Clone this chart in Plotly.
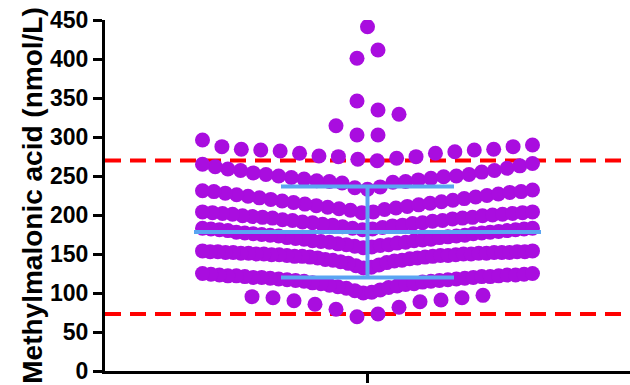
import plotly.graph_objects as go

# ---- data: Methylmalonic acid values (nmol/L), grouped by swarm row,
# listed from the centre outward (alternating left / right) ----
row_440 = [441.4]
row_400 = [400.9, 411.5]
row_330 = [346.2, 334.6]
row_300 = [302.6, 302.6, 314.5, 329.1]
row_270 = [271.4, 269.6, 274.8, 272.7, 275.6, 274.8, 279.1, 279.1, 282.1,
           281.1, 283.3, 283.3, 284.2, 284.2, 287.6, 287.6, 296.2, 289.7]
row_240 = [233, 235, 236, 241, 242, 243, 243, 244, 245, 246, 247, 248, 249,
           250, 250, 252, 252, 254, 255, 257, 257, 259, 260, 262, 263, 265, 266]
row_210 = [203, 204, 206, 207, 208, 209, 210, 211, 212, 213, 214, 215, 216,
           217, 218, 219, 220, 221, 222, 223, 224, 225, 226, 227, 228, 229,
           230, 230, 231, 232]
row_180 = [181, 182, 183, 184, 185, 186, 187, 187, 188, 189, 190, 190, 191,
           192, 193, 193, 194, 195, 196, 196, 197, 197, 198, 199, 199, 200,
           201, 201, 202, 202, 203, 203, 204, 204]
row_155 = [158, 159, 160, 161, 162, 162, 163, 164, 165, 165, 166, 167, 167,
           168, 169, 169, 170, 171, 171, 172, 173, 173, 174, 174, 175, 176,
           176, 177, 177, 178, 178, 179, 180, 180, 181, 181, 182, 182, 183, 183]
row_130 = [132, 133, 135, 136, 138, 139, 140, 141, 142, 142, 143, 144, 145,
           145, 146, 146, 147, 147, 147, 148, 148, 148, 149, 149, 149, 150,
           150, 150, 150, 151, 151, 151, 151, 152, 152, 152, 152, 152, 153,
           153, 153, 153, 154, 154]
row_100 = [100, 101, 103, 104, 106, 107, 108, 109, 110, 111, 112, 112, 113,
           114, 115, 115, 116, 116, 117, 117, 118, 118, 119, 119, 120, 120,
           120, 121, 121, 121, 122, 122, 122, 123, 123, 123, 124, 124, 125, 125]
row_70 = [69.6, 73.1, 79.1, 81.7, 85.5, 88.8, 90.1, 91.0, 94.0, 94.0, 95.3, 97.0]

swarm_rows = [row_440, row_400, row_330, row_300, row_270, row_240, row_210,
              row_180, row_155, row_130, row_100, row_70]

mean_value = 178.3
sd_value = 58.3
reference_low = 73
reference_high = 270

y_title = "Methylmalonic acid (nmol/L)"
y_ticks = [0, 50, 100, 150, 200, 250, 300, 350, 400, 450]

# ---- layout geometry ----
W, H = 630, 385
M_L, M_R, M_T, M_B = 105, 0, 20, 14
plot_w = W - M_L - M_R
px_per_x = plot_w / 2.0          # x range is [-1, 1]
base_gap_px = 21.0
max_row_px = 330.0

purple = "#A90DDF"
blue = "#5AA5F2"
red = "#FF0000"


def swarm_offsets(n):
    gap = base_gap_px if n < 2 else min(base_gap_px, max_row_px / (n - 1))
    offs = []
    for i in range(n):
        if n % 2 == 1:
            k = 0 if i == 0 else (i + 1) // 2
            sign = -1 if i % 2 == 1 else 1
            offs.append(sign * k * gap)
        else:
            k = i // 2 + 0.5
            sign = -1 if i % 2 == 0 else 1
            offs.append(sign * k * gap)
    return [o / px_per_x for o in offs]


xs, ys = [], []
for row in swarm_rows:
    xs.extend(swarm_offsets(len(row)))
    ys.extend(row)

fig = go.Figure()
fig.add_trace(go.Scatter(
    x=xs, y=ys, mode="markers",
    marker=dict(size=15, color=purple, line=dict(width=0)),
    hoverinfo="y", showlegend=False))

mean_half = 173.5 / px_per_x
cap_half = 86.5 / px_per_x
blue_line = dict(color=blue, width=4)
fig.add_trace(go.Scatter(x=[-mean_half, mean_half], y=[mean_value, mean_value],
                         mode="lines", line=blue_line, showlegend=False, hoverinfo="skip"))
fig.add_trace(go.Scatter(x=[-cap_half, cap_half], y=[mean_value + sd_value] * 2,
                         mode="lines", line=blue_line, showlegend=False, hoverinfo="skip"))
fig.add_trace(go.Scatter(x=[-cap_half, cap_half], y=[mean_value - sd_value] * 2,
                         mode="lines", line=blue_line, showlegend=False, hoverinfo="skip"))
fig.add_trace(go.Scatter(x=[0, 0], y=[mean_value - sd_value, mean_value + sd_value],
                         mode="lines", line=dict(color=blue, width=4), showlegend=False,
                         hoverinfo="skip"))

for yv in (reference_low, reference_high):
    fig.add_shape(type="line", xref="paper", x0=0, x1=1, yref="y", y0=yv, y1=yv,
                  line=dict(color=red, width=4, dash="16px,9px"), layer="below")

font_family = "Liberation Sans, Arial, Helvetica, sans-serif"
fig.update_layout(
    width=W, height=H,
    margin=dict(l=M_L, r=M_R, t=M_T, b=M_B, pad=0, autoexpand=False),
    plot_bgcolor="white", paper_bgcolor="white",
    font=dict(family=font_family, color="black"),
    xaxis=dict(range=[-1, 1], showgrid=False, zeroline=False, showline=True,
               linecolor="black", linewidth=3, ticks="outside", ticklen=9,
               tickwidth=3, tickcolor="black", tickvals=[0], ticktext=[""],
               fixedrange=True, automargin=False),
    yaxis=dict(range=[0, 450], showgrid=False, zeroline=False, showline=True,
               linecolor="black", linewidth=3, ticks="outside", ticklen=9,
               tickwidth=3, tickcolor="black", tickvals=y_ticks,
               tickfont=dict(size=23, family=font_family, weight="bold"),
               title=dict(text=y_title, standoff=0,
                          font=dict(size=28, family=font_family, weight="bold")),
               fixedrange=True, automargin=False),
)

fig.write_html("out.html", config={"displayModeBar": False},
               post_script="document.body.style.margin='0px';document.body.style.padding='0px';")
